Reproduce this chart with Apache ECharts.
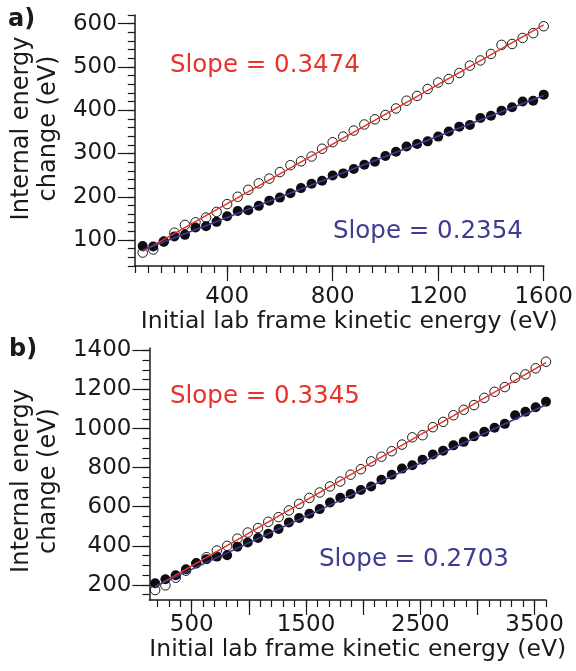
<!DOCTYPE html>
<html>
<head>
<meta charset="utf-8">
<script src="https://cdn.jsdelivr.net/npm/echarts@6/dist/echarts.min.js"></script>
<style>
html, body { margin: 0; padding: 0; background: #fff; }
#chart { width: 576px; height: 671px; }
</style>
</head>
<body>
<div id="chart"></div>
<script>
// panel a) lab energies (eV) and internal energy change (eV)
var energyA = [80, 120, 160, 200, 240, 280, 320, 360, 400, 440, 480, 520, 560, 600, 640, 680, 720, 760, 800, 840,
  880, 920, 960, 1000, 1040, 1080, 1120, 1160, 1200, 1240, 1280, 1320, 1360, 1400, 1440, 1480, 1520, 1560, 1600];
var openA = [71, 78, 97, 117, 135, 141, 152, 165, 183, 200, 216, 231, 242, 257, 273, 282, 293, 311, 326, 339,
  353, 367, 379, 389, 404, 422, 433, 449, 464, 472, 486, 503, 515, 530, 551, 553, 567, 578, 594];
var filledA = [86, 85, 96, 108, 112, 129, 132, 142, 155, 167, 169, 179, 191, 198, 208, 220, 230, 237, 249, 254,
  264, 274, 281, 294, 304, 316, 322, 328, 339, 351, 362, 366, 382, 387, 399, 407, 420, 422, 436];
var fitOpenA = [[80, 74], [1600, 597]];
var fitFilledA = [[80, 77], [1600, 434]];

// panel b)
var energyB = [180, 270, 360, 450, 540, 630, 720, 810, 900, 990, 1080, 1170, 1260, 1350, 1440, 1530, 1620, 1710, 1800, 1890,
  1980, 2070, 2160, 2250, 2340, 2430, 2520, 2610, 2700, 2790, 2880, 2970, 3060, 3150, 3240, 3330, 3420, 3510, 3600];
var openB = [174, 198, 237, 273, 311, 342, 376, 400, 437, 468, 491, 523, 547, 581, 615, 645, 673, 704, 729, 764,
  792, 832, 856, 884, 918, 955, 966, 1007, 1034, 1068, 1096, 1120, 1157, 1188, 1212, 1260, 1277, 1308, 1342];
var filledB = [209, 229, 250, 280, 311, 332, 345, 352, 396, 417, 440, 462, 486, 519, 542, 564, 588, 622, 646, 665,
  686, 704, 738, 764, 795, 812, 841, 867, 887, 914, 932, 960, 983, 1004, 1024, 1068, 1086, 1109, 1137];
var fitOpenB = [[180, 190], [3600, 1337]];
var fitFilledB = [[180, 193], [3600, 1122]];

var slopeLabels = ['Slope = 0.3474', 'Slope = 0.2354', 'Slope = 0.3345', 'Slope = 0.2703'];

// ticks
var xLabelsA = [400, 800, 1200, 1600];
var yLabelsA = [100, 200, 300, 400, 500, 600];
var xLabelsB = [500, 1500, 2500, 3500];
var xLongB = [500, 1000, 1500, 2000, 2500, 3000, 3500];
var yLabelsB = [200, 400, 600, 800, 1000, 1200, 1400];

function steps(from, to, step) {
  var out = [];
  for (var v = from; v <= to; v += step) out.push(v);
  return out;
}
function pairs(xs, ys) {
  return xs.map(function (x, i) { return [x, ys[i]]; });
}
function plain(v) { return String(v); }

var FONT = 'DejaVu Sans';
var INK = '#1a1a1a';
var RED = '#e8322b';
var BLUE = '#3d3b92';
var xTitle = 'Initial lab frame kinetic energy (eV)';
var yTitle = 'Internal energy\nchange (eV)';

function mainX(grid, min, max, labels, longTicks, margin, gap) {
  return {
    type: 'value', gridIndex: grid, position: 'bottom', min: min, max: max,
    name: xTitle, nameLocation: 'middle', nameGap: gap,
    nameTextStyle: { fontFamily: FONT, fontSize: 23.5, color: INK, padding: [0, 0, 0, 20] },
    axisLine: { show: true, onZero: false, lineStyle: { color: INK, width: 1.5 } },
    axisTick: { show: true, customValues: longTicks, length: 15, lineStyle: { color: INK, width: 1.2 } },
    axisLabel: { customValues: labels, formatter: plain, margin: margin, fontFamily: FONT, fontSize: 23, color: INK },
    splitLine: { show: false }
  };
}
function minorX(grid, min, max, ticks) {
  return {
    type: 'value', gridIndex: grid, position: 'bottom', min: min, max: max,
    axisLine: { show: false, onZero: false },
    axisTick: { show: true, customValues: ticks, length: 7, lineStyle: { color: INK, width: 1.2 } },
    axisLabel: { show: false }, splitLine: { show: false }
  };
}
function mainY(grid, min, max, labels, pad) {
  return {
    type: 'value', gridIndex: grid, position: 'left', min: min, max: max,
    name: yTitle, nameLocation: 'middle', nameGap: 68,
    nameTextStyle: { fontFamily: FONT, fontSize: 24, lineHeight: 27, color: INK, padding: pad },
    axisLine: { show: true, onZero: false, lineStyle: { color: INK, width: 1.5 } },
    axisTick: { show: true, customValues: labels, length: 17, lineStyle: { color: INK, width: 1.2 } },
    axisLabel: { customValues: labels, formatter: plain, margin: 18, fontFamily: FONT, fontSize: 23, color: INK },
    splitLine: { show: false }
  };
}
function minorY(grid, min, max, ticks) {
  return {
    type: 'value', gridIndex: grid, position: 'left', min: min, max: max,
    axisLine: { show: false, onZero: false },
    axisTick: { show: true, customValues: ticks, length: 7, lineStyle: { color: INK, width: 1.2 } },
    axisLabel: { show: false }, splitLine: { show: false }
  };
}

function openSeries(ax, data) {
  return {
    type: 'scatter', xAxisIndex: ax, yAxisIndex: ax, data: data, symbolSize: 9.5, z: 2,
    itemStyle: { color: 'rgba(255,255,255,0)', borderColor: INK, borderWidth: 1, opacity: 1 }
  };
}
function filledSeries(ax, data) {
  return {
    type: 'scatter', xAxisIndex: ax, yAxisIndex: ax, data: data, symbolSize: 10, z: 2,
    itemStyle: { color: '#0d0d12', opacity: 1 }
  };
}
function fitSeries(ax, data, color) {
  return {
    type: 'line', xAxisIndex: ax, yAxisIndex: ax, data: data, symbol: 'none', z: 3,
    lineStyle: { color: color, width: 1.5 }
  };
}
function note(text, x, y, color, bold) {
  return {
    type: 'text', x: x, y: y, z: 10,
    style: {
      text: text, fill: color, fontFamily: FONT, fontSize: bold ? 24 : 24.5,
      fontWeight: bold ? 'bold' : 'normal', verticalAlign: 'middle', align: 'left'
    }
  };
}

var myChart = echarts.init(document.getElementById('chart'));
myChart.setOption({
  backgroundColor: '#fff',
  animation: false,
  grid: [
    { left: 133, width: 413, top: 15, height: 251 },
    { left: 133, width: 413, top: 348, height: 252 }
  ],
  xAxis: [
    mainX(0, 50, 1600, xLabelsA, xLabelsA, 20, 42),
    minorX(0, 50, 1600, steps(50, 1600, 50)),
    mainX(1, 130, 3600, xLabelsB, xLongB, 14, 38),
    minorX(1, 130, 3600, steps(200, 3600, 100))
  ],
  yAxis: [
    mainY(0, 40, 620, yLabelsA, [0, 0, 0, 24]),
    minorY(0, 40, 620, steps(40, 620, 20)),
    mainY(1, 123, 1412, yLabelsB, [0, 14, 0, 0]),
    minorY(1, 123, 1412, steps(150, 1400, 50))
  ],
  series: [
    openSeries(0, pairs(energyA, openA)),
    filledSeries(0, pairs(energyA, filledA)),
    fitSeries(0, fitOpenA, RED),
    fitSeries(0, fitFilledA, BLUE),
    openSeries(2, pairs(energyB, openB)),
    filledSeries(2, pairs(energyB, filledB)),
    fitSeries(2, fitOpenB, RED),
    fitSeries(2, fitFilledB, BLUE)
  ],
  graphic: [
    note('a)', 8, 20, INK, true),
    note('b)', 9, 350, INK, true),
    note(slopeLabels[0], 170, 66, RED),
    note(slopeLabels[1], 333, 232, BLUE),
    note(slopeLabels[2], 170, 397, RED),
    note(slopeLabels[3], 319, 560, BLUE)
  ]
});
</script>
</body>
</html>
